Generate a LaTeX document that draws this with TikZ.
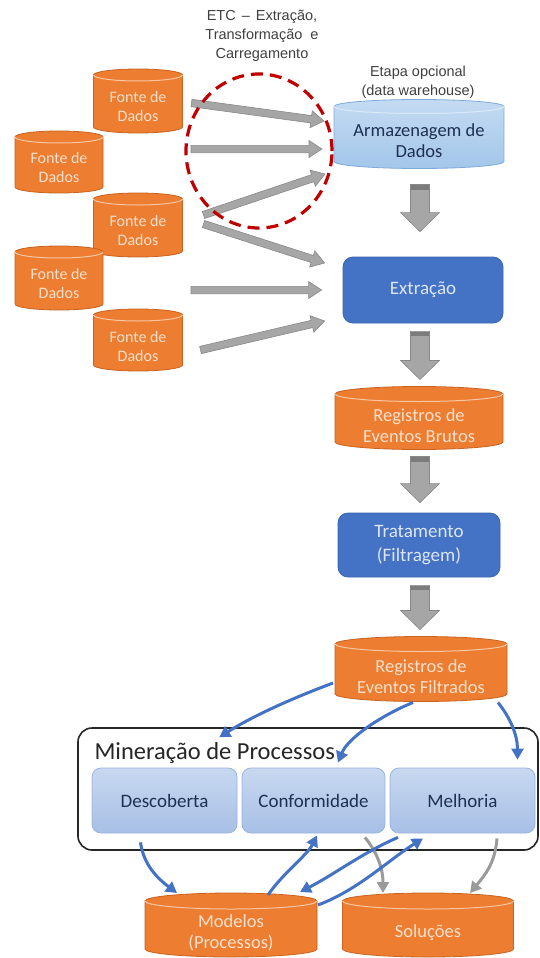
\documentclass[tikz,border=0pt]{standalone}
\usepackage{fontspec}
\setmainfont{Carlito}
\newfontfamily\notefont{Liberation Sans}
\usetikzlibrary{calc,arrows.meta,shapes.geometric}

\definecolor{orfill}{HTML}{ED7D31}
\definecolor{orline}{HTML}{C9631F}
\definecolor{orrim}{HTML}{F7C6A3}
\definecolor{ortext}{HTML}{FBE0CC}
\definecolor{whfill}{HTML}{A3C6EA}
\definecolor{whtop}{HTML}{C4DBF2}
\definecolor{whline}{HTML}{7FA9DA}
\definecolor{whrim}{HTML}{DCEAF8}
\definecolor{navy}{HTML}{1F3050}
\definecolor{boxblue}{HTML}{4472C4}
\definecolor{boxline}{HTML}{3A64B0}
\definecolor{boxtext}{HTML}{DCE6F5}
\definecolor{pmtop}{HTML}{C8D8F0}
\definecolor{pmbot}{HTML}{A7C0E6}
\definecolor{pmline}{HTML}{9AB4DD}
\definecolor{grfill}{HTML}{A6A6A6}
\definecolor{grline}{HTML}{888888}
\definecolor{grband}{HTML}{7C7C7C}
\definecolor{flowblue}{HTML}{4472C4}
\definecolor{flowgray}{HTML}{9A9A9A}
\definecolor{etcred}{HTML}{C00000}
\definecolor{note}{HTML}{404040}

\tikzset{
  cylbox/.style={inner sep=0pt,outer sep=0pt},
  src body/.style={fill=orfill,draw=orline,line width=0.8pt},
  src rim/.style={draw=orrim,line width=1pt},
  src label/.style={text=ortext,align=center,font=\fontsize{16pt}{19pt}\selectfont},
  log body/.style={src body},
  log rim/.style={src rim},
  log label/.style={text=ortext,align=center,font=\fontsize{18.5pt}{20.5pt}\selectfont},
  wh body/.style={top color=whtop,bottom color=whfill,draw=whline,line width=0.8pt},
  wh rim/.style={draw=whrim,line width=1pt},
  wh label/.style={text=navy,align=center,font=\fontsize{18.5pt}{21pt}\selectfont},
  note text/.style={text=note,align=center,font=\notefont\fontsize{14.5pt}{19pt}\selectfont},
  flowbox/.style={fill=boxblue,draw=boxline,line width=0.8pt,rounded corners=10pt,
    text=boxtext,align=center,font=\fontsize{19pt}{24pt}\selectfont,inner sep=0pt},
  pmframe/.style={draw=black!85,line width=1.6pt,rounded corners=14pt,fill=white,inner sep=0pt},
  pmstep/.style={top color=pmtop,bottom color=pmbot,draw=pmline,line width=0.8pt,
    rounded corners=9pt,text=navy,font=\fontsize{19pt}{22pt}\selectfont,
    minimum height=65pt,inner sep=0pt},
  block/.style={fill=grfill,draw=grline,line width=0.6pt},
  flow/.style={draw=flowblue,line width=3pt,-{Triangle[length=11pt,width=12pt]}},
  grayflow/.style={draw=flowgray,line width=3pt,-{Triangle[length=11pt,width=12pt]}},
  etcring/.style={ellipse,draw=etcred,line width=3.2pt,dash pattern=on 12pt off 7pt,inner sep=0pt},
}

% cylinder: name, cx, cy, width, height, half-height of the end ellipses, style prefix, label
\newcommand\drawcyl[8]{%
  \pgfmathsetmacro\cylL{#2-#4/2}%
  \pgfmathsetmacro\cylR{#2+#4/2}%
  \pgfmathsetmacro\cylT{#3-#5/2+#6}%
  \pgfmathsetmacro\cylB{#3+#5/2-#6}%
  \pgfmathsetmacro\cylRx{#4/2}%
  \path[#7 body] (\cylL,\cylT) -- (\cylL,\cylB)
     arc[start angle=180,end angle=0,x radius=\cylRx,y radius=#6]
     -- (\cylR,\cylT)
     arc[start angle=0,end angle=-180,x radius=\cylRx,y radius=#6] -- cycle;
  \draw[#7 rim] (\cylL,\cylT) arc[start angle=180,end angle=0,x radius=\cylRx,y radius=#6];
  \node[cylbox,minimum width=#4pt,minimum height=#5pt] (#1) at (#2,#3) {};
  \node[#7 label] at (#2,#3+#6) {#8};
}

% block arrow: from, to, half shaft width, half head width, head length, style
\newcommand\blockarrow[6]{%
  \coordinate (baneck) at ($(#2)!#5!(#1)$);
  \path[#6] ($(#1)!#3!90:(#2)$) -- ($(baneck)!#3!90:(#2)$) -- ($(baneck)!#4!90:(#2)$)
    -- (#2) -- ($(baneck)!#4!-90:(#2)$) -- ($(baneck)!#3!-90:(#2)$)
    -- ($(#1)!#3!-90:(#2)$) -- cycle;
}

% vertical block arrow with the darker band at the top of its shaft
\newcommand\stagearrow[2]{%
  \blockarrow{#1}{#2}{9.5pt}{19.5pt}{19pt}{block}
  \fill[grband] ($(#1)+(-9.2,0.5)$) rectangle ($(#1)+(9.2,5)$);
}

\begin{document}
\begin{tikzpicture}[x=1pt,y=-1pt]
\useasboundingbox (0,0) rectangle (540,958);
\fill[white] (0,0) rectangle (540,958);

% labels above the first stage
\node[note text] (etclabel) at (262,36) {ETC\hspace{2pt} –\hspace{2pt} Extração,\\Transformação\hspace{4pt} e\\Carregamento};
\node[note text] (whnote) at (418,82) {Etapa opcional\\(data warehouse)};

% data sources
\drawcyl{f1}{138}{101}{89}{64}{6}{src}{Fonte de\\Dados}
\drawcyl{f2}{59}{162}{88}{62}{6}{src}{Fonte de\\Dados}
\drawcyl{f3}{138}{225}{89}{64}{6}{src}{Fonte de\\Dados}
\drawcyl{f4}{59}{278}{88}{64}{6}{src}{Fonte de\\Dados}
\drawcyl{f5}{138}{340}{89}{62}{6}{src}{Fonte de\\Dados}

% main flow
\drawcyl{wh}{419}{134}{170}{69}{7}{wh}{Armazenagem de\\Dados}
\node[flowbox,minimum width=160pt,minimum height=66pt] (ext) at (423,290) {Extração};
\drawcyl{raw}{419}{418}{168}{63}{7.5}{log}{Registros de\\Eventos Brutos}
\node[flowbox,minimum width=162pt,minimum height=64pt] (trat) at (419,545) {Tratamento\\(Filtragem)};
\drawcyl{filt}{421}{669}{172}{65}{7.5}{log}{Registros de\\Eventos Filtrados}

% arrows from the sources
\coordinate (s1) at ($(f1.east)+(9,2)$);   \coordinate (t1) at ($(wh.west)+(-10,-13)$);
\coordinate (s2) at ($(f2.east)+(88,-13)$); \coordinate (t2) at ($(wh.west)+(-12,15)$);
\coordinate (s3) at ($(f3.east)+(21,-10)$); \coordinate (t3) at ($(wh.west)+(-9,40)$);
\coordinate (s4) at ($(f3.east)+(21,-1)$);  \coordinate (t4) at ($(ext.west)+(-18,-27)$);
\coordinate (s5) at ($(f4.east)+(88,12)$);  \coordinate (t5) at ($(ext.west)+(-21,0)$);
\coordinate (s6) at ($(f5.east)+(18,10)$);  \coordinate (t6) at ($(ext.west)+(-18,31)$);
\blockarrow{s1}{t1}{3.7pt}{8.5pt}{13pt}{block}
\blockarrow{s2}{t2}{3.7pt}{8.5pt}{13pt}{block}
\blockarrow{s3}{t3}{3.7pt}{8.5pt}{13pt}{block}
\blockarrow{s4}{t4}{3.7pt}{8.5pt}{13pt}{block}
\blockarrow{s5}{t5}{3.7pt}{8.5pt}{13pt}{block}
\blockarrow{s6}{t6}{3.7pt}{8.5pt}{13pt}{block}

\node[etcring,minimum width=146pt,minimum height=154pt] (etc) at (259,151) {};

% arrows between the stages
\coordinate (d1a) at ($(wh.south)+(1,16)$);    \coordinate (d1b) at ($(ext.north)+(-3,-25)$);
\coordinate (d2a) at ($(ext.south)+(-3,8)$);   \coordinate (d2b) at ($(raw.north)+(1,-7)$);
\coordinate (d3a) at ($(raw.south)+(1,7)$);    \coordinate (d3b) at ($(trat.north)+(1,-10)$);
\coordinate (d4a) at ($(trat.south)+(1,8)$);   \coordinate (d4b) at ($(filt.north)+(-1,-7)$);
\stagearrow{d1a}{d1b}
\stagearrow{d2a}{d2b}
\stagearrow{d3a}{d3b}
\stagearrow{d4a}{d4b}

% process mining
\node[pmframe,minimum width=460pt,minimum height=122pt] (pm) at (308,789) {};
\node[anchor=base west,text=black!85,font=\fontsize{24.5pt}{27pt}\selectfont] (pmtitle) at (91,759) {Mineração de Processos};
\node[pmstep,minimum width=145pt] (desc) at (164.5,800.5) {Descoberta};
\node[pmstep,minimum width=143pt] (conf) at (313.5,800.5) {Conformidade};
\node[pmstep,minimum width=145pt] (melh) at (462.5,800.5) {Melhoria};

\drawcyl{mod}{231}{925}{172}{64}{8}{log}{Modelos\\(Processos)}
\drawcyl{sol}{428}{925}{171}{64}{8}{log}{Soluções}

% connectors of the mining stage
\draw[grayflow] ($(conf.south)+(51.5,4)$) .. controls +(12,15) and +(0,-25) .. ($(sol.north)+(-45,0)$);
\draw[grayflow] ($(melh.south)+(34.5,5)$) .. controls +(-2,25) and +(15,-18) .. ($(sol.north)+(42,0)$);

\draw[flow] ($(filt.west)+(-2,14)$) .. controls +(-40,15) and +(35,-22) .. ($(pm.north west)+(142,10)$);
\draw[flow] ($(filt.south)+(-8,1)$) .. controls +(-30,12) and +(10,-25) .. ($(conf.north)+(24.5,-5)$);
\draw[flow] ($(filt.south east)+(-9,1)$) .. controls +(12,15) and +(0,-25) .. ($(melh.north)+(55,-8)$);
\draw[flow] ($(desc.south)+(-24,9)$) .. controls +(3,22) and +(-20,-15) .. ($(mod.north)+(-54,0)$);
\draw[flow] ($(mod.north)+(37,2)$) .. controls +(15,-22) and +(-10,20) .. ($(conf.south)+(3.5,2)$);
\draw[flow] ($(melh.south)+(-64.5,4)$) .. controls +(-35,15) and +(35,-18) .. ($(mod.north east)+(-17,-1)$);
\draw[flow] ($(mod.east)+(1,-20)$) .. controls +(40,-15) and +(-35,22) .. ($(melh.south)+(-39.5,5)$);
\end{tikzpicture}
\end{document}
